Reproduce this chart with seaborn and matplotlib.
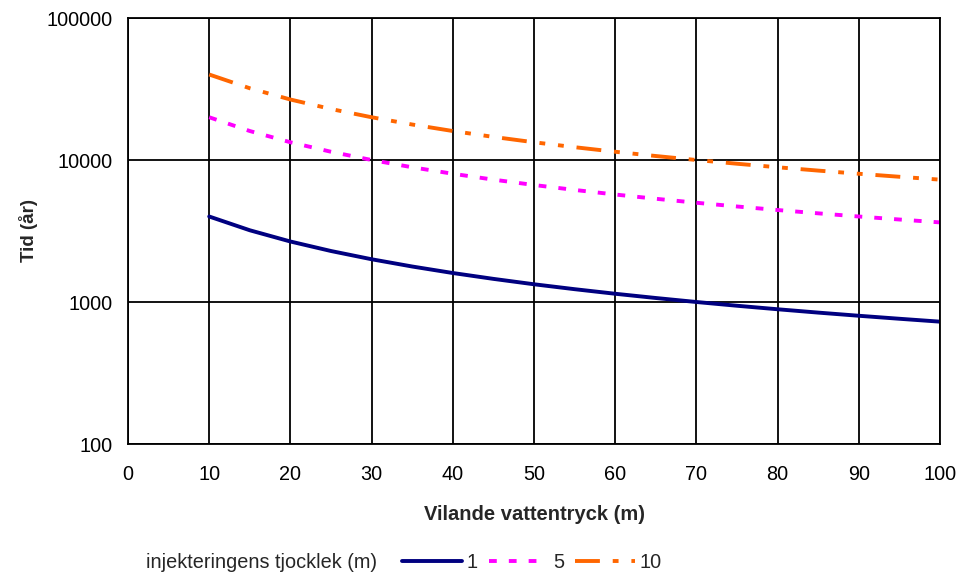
import matplotlib
matplotlib.use("Agg")
import matplotlib.pyplot as plt
import seaborn as sns
import pandas as pd
from matplotlib.lines import Line2D

x_vals = [10, 15, 20, 25, 30, 35, 40, 45, 50, 55, 60, 65, 70, 75, 80, 85, 90, 95, 100]
tid_1 = [4000, 3200, 2667, 2286, 2000, 1778, 1600, 1455, 1333, 1231, 1143, 1067, 1000, 941, 889, 842, 800, 762, 727]
tid_5 = [20000, 16000, 13333, 11429, 10000, 8889, 8000, 7273, 6667, 6154, 5714, 5333, 5000, 4706, 4444, 4211, 4000, 3810, 3636]
tid_10 = [40000, 32000, 26667, 22857, 20000, 17778, 16000, 14545, 13333, 12308, 11429, 10667, 10000, 9412, 8889, 8421, 8000, 7619, 7273]
series_labels = ["1", "5", "10"]
x_ticks = [0, 10, 20, 30, 40, 50, 60, 70, 80, 90, 100]
y_ticks = [100, 1000, 10000, 100000]

sns.set_theme(style="white")
plt.rcParams['font.family'] = ['Liberation Sans', 'DejaVu Sans']

df = pd.DataFrame({
    "x": x_vals * 3,
    "y": tid_1 + tid_5 + tid_10,
    "s": [series_labels[0]] * len(x_vals) + [series_labels[1]] * len(x_vals) + [series_labels[2]] * len(x_vals),
})

LW = 2.8
colors = {"1": "#000080", "5": "#FF00FF", "10": "#FF6600"}
dashes = {"1": "", "5": (2.0, 3.1), "10": (6.4, 3.3, 1.5, 3.3, 1.5, 3.3)}

fig = plt.figure(figsize=(9.6, 5.76), dpi=100)
ax = fig.add_axes([128/960, 1 - 444/576, (940-128)/960, (444-18)/576])

sns.lineplot(data=df, x="x", y="y", hue="s", style="s", palette=colors, dashes=dashes,
             linewidth=LW, legend=False, ax=ax)

ax.set_yscale("log")
ax.set_xlim(0, 100)
ax.set_ylim(100, 100000)
ax.set_xticks(x_ticks)
ax.set_yticks(y_ticks)
ax.set_yticklabels([str(v) for v in y_ticks])
ax.minorticks_off()
ax.grid(True, which="major", color="black", linewidth=1.3)
ax.set_axisbelow(True)
for sp in ax.spines.values():
    sp.set_color("black")
    sp.set_linewidth(1.3)
ax.tick_params(axis="both", which="major", direction="out", length=5, width=1.2, color="black",
               labelsize=14.3, labelcolor="black", pad=6)
ax.tick_params(axis="x", pad=10)
ax.set_xlabel("Vilande vattentryck (m)", fontsize=14.5, fontweight="bold", labelpad=15)
ax.set_ylabel("Tid (år)", fontsize=13.5, fontweight="bold", labelpad=6)

fig.text(146/960, 1 - 562/576, "injekteringens tjocklek (m)", fontsize=14.3, va="center", ha="left")
handles = [Line2D([], [], color=colors[k], linewidth=LW,
                  linestyle=((0, dashes[k]) if dashes[k] else "-")) for k in series_labels]
leg = fig.legend(handles, series_labels, loc="center left", bbox_to_anchor=(402/960, 1 - 562/576),
                 ncol=3, frameon=False, fontsize=14.3, handlelength=3.0, handletextpad=0.25,
                 columnspacing=0.55, borderaxespad=0, borderpad=0)

fig.savefig("out.png", dpi=100)
